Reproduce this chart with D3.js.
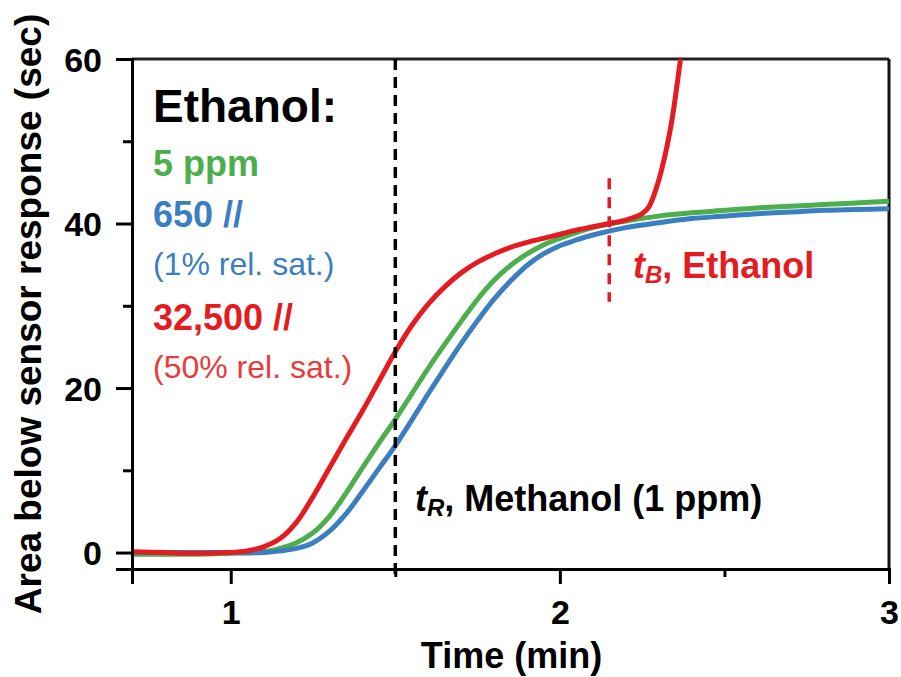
<!DOCTYPE html>
<html>
<head>
<meta charset="utf-8">
<script src="https://cdn.jsdelivr.net/npm/d3@7/dist/d3.min.js"></script>
<style>
  html, body { margin: 0; padding: 0; background: #fff; }
  svg { display: block; font-family: "Liberation Sans", Arial, sans-serif; }
</style>
</head>
<body>
<svg id="chart" width="901" height="677"></svg>
<script>
// ---------- data ----------
const timeGB = [0.70, 0.80, 0.90, 1.00, 1.10, 1.15, 1.20, 1.25, 1.30, 1.35, 1.40, 1.45, 1.50, 1.55, 1.60, 1.65, 1.70, 1.75, 1.80, 1.85, 1.90, 1.95, 2.00, 2.05, 2.10, 2.20, 2.30, 2.40, 2.50, 2.60, 2.70, 2.80, 2.90, 3.00];
const green5ppm = [-0.2, -0.2, -0.2, -0.1, 0.1, 0.5, 1.2, 2.4, 4.4, 7.2, 10.3, 13.3, 16.2, 19.3, 22.4, 25.3, 28.1, 30.8, 33.1, 34.9, 36.3, 37.4, 38.2, 38.9, 39.5, 40.3, 40.9, 41.3, 41.6, 41.9, 42.1, 42.3, 42.5, 42.7];
const blue650ppm = [0.0, 0.0, 0.0, 0.0, 0.0, 0.2, 0.5, 1.2, 2.6, 4.7, 7.4, 10.2, 13.0, 16.1, 19.3, 22.4, 25.4, 28.2, 30.8, 33.0, 34.9, 36.3, 37.3, 38.0, 38.6, 39.5, 40.1, 40.6, 40.9, 41.2, 41.4, 41.6, 41.7, 41.8];
const timeRed = [0.70, 0.80, 0.90, 1.00, 1.05, 1.10, 1.15, 1.20, 1.25, 1.30, 1.35, 1.40, 1.45, 1.50, 1.55, 1.60, 1.65, 1.70, 1.75, 1.80, 1.85, 1.90, 1.95, 2.00, 2.05, 2.10, 2.15, 2.20, 2.25, 2.27, 2.30, 2.335, 2.366, 2.38];
const red32500ppm = [0.1, 0.0, -0.1, 0.0, 0.2, 0.7, 1.7, 3.7, 6.8, 10.3, 13.8, 17.2, 20.8, 24.4, 27.6, 30.2, 32.3, 34.0, 35.3, 36.3, 37.1, 37.7, 38.2, 38.7, 39.2, 39.6, 40.0, 40.4, 41.2, 42.0, 45.2, 51.3, 59.8, 64.0];

const xTicksMajor = [1, 2, 3];
const xTicksMinor = [1.5, 2.5];
const yTicksMajor = [0, 20, 40, 60];
const yTicksMinor = [10, 30, 50];

const tR = 1.5;                 // methanol retention time
const tB = 2.15;                // ethanol breakthrough
const tBRange = [30.5, 45.5];

const legendLines = [
  { text: "Ethanol:", color: "#000000", weight: "bold", size: 46 },
  { text: "5 ppm", color: "#4cae4c", weight: "bold", size: 36 },
  { text: "650 //", color: "#3b7fc0", weight: "bold", size: 36 },
  { text: "(1% rel. sat.)", color: "#3b7fc0", weight: "normal", size: 32 },
  { text: "32,500 //", color: "#e41c22", weight: "bold", size: 36 },
  { text: "(50% rel. sat.)", color: "#ea3a3a", weight: "normal", size: 32 }
];
const legendBaselines = [122, 176, 227, 275, 330, 378];

// ---------- layout ----------
const svg = d3.select("#chart");
const L = 132, R = 889, T = 59, B = 569;

const x = d3.scaleLinear().domain([0.7, 3.0]).range([L, R]);
const y = d3.scaleLinear().domain([-2, 60]).range([B, T]);

svg.append("defs").append("clipPath").attr("id", "clip")
  .append("rect").attr("x", L).attr("y", T).attr("width", R - L).attr("height", B - T);

// frame top/right
svg.append("line").attr("x1", L).attr("x2", R).attr("y1", T).attr("y2", T)
  .attr("stroke", "#222").attr("stroke-width", 3);
svg.append("line").attr("x1", R).attr("x2", R).attr("y1", T).attr("y2", B)
  .attr("stroke", "#111").attr("stroke-width", 3);

// curves
const plot = svg.append("g").attr("clip-path", "url(#clip)");
const line = d3.line().x(d => x(d[0])).y(d => y(d[1])).curve(d3.curveCatmullRom.alpha(0.5));
const series = [
  { t: timeGB, v: green5ppm, color: "#4cae4c" },
  { t: timeGB, v: blue650ppm, color: "#3b7fc0" },
  { t: timeRed, v: red32500ppm, color: "#e41c22" }
];
series.forEach(s => {
  plot.append("path")
    .datum(s.t.map((t, i) => [t, s.v[i]]))
    .attr("d", line)
    .attr("fill", "none")
    .attr("stroke", s.color)
    .attr("stroke-width", 5)
    .attr("stroke-linejoin", "round");
});

// dashed markers
svg.append("line")
  .attr("x1", x(tR)).attr("x2", x(tR))
  .attr("y1", T).attr("y2", B + 8)
  .attr("stroke", "#000").attr("stroke-width", 3.5)
  .attr("stroke-dasharray", "11,7");
svg.append("line")
  .attr("x1", x(tB)).attr("x2", x(tB))
  .attr("y1", y(tBRange[1])).attr("y2", y(tBRange[0]))
  .attr("stroke", "#e41c22").attr("stroke-width", 3.5)
  .attr("stroke-dasharray", "11,8");

// axes
const xAxis = svg.append("g").attr("transform", `translate(0,${B})`)
  .call(d3.axisBottom(x).tickValues(xTicksMajor).tickSize(15).tickPadding(16).tickFormat(d3.format("d")));
svg.append("g").attr("transform", `translate(0,${B})`)
  .call(d3.axisBottom(x).tickValues(xTicksMinor).tickSize(8).tickFormat(""))
  .call(g => g.select(".domain").remove());
const yAxis = svg.append("g").attr("transform", `translate(${L},0)`)
  .call(d3.axisLeft(y).tickValues(yTicksMajor).tickSize(16).tickPadding(14).tickFormat(d3.format("d")));
svg.append("g").attr("transform", `translate(${L},0)`)
  .call(d3.axisLeft(y).tickValues(yTicksMinor).tickSize(9).tickFormat(""))
  .call(g => g.select(".domain").remove());

svg.selectAll(".domain").attr("stroke", "#000").attr("stroke-width", 3);
svg.selectAll(".tick line").attr("stroke", "#000").attr("stroke-width", 3);
svg.selectAll(".tick text")
  .attr("font-family", "Liberation Sans, Arial, sans-serif")
  .attr("font-size", 34).attr("font-weight", "bold").attr("fill", "#000");
xAxis.selectAll(".tick text").attr("dy", "0.71em");
yAxis.selectAll(".tick text").attr("dy", "0.36em");

// axis titles
svg.append("text")
  .attr("x", (L + R) / 2 + 1).attr("y", 668)
  .attr("text-anchor", "middle")
  .attr("font-size", 36).attr("font-weight", "bold")
  .text("Time (min)");
svg.append("text")
  .attr("transform", `translate(41,${(T + B) / 2}) rotate(-90)`)
  .attr("text-anchor", "middle")
  .attr("font-size", 37).attr("font-weight", "bold")
  .text("Area below sensor response (sec)");

// legend block
legendLines.forEach((d, i) => {
  svg.append("text")
    .attr("x", 153).attr("y", legendBaselines[i])
    .attr("font-size", d.size).attr("font-weight", d.weight)
    .attr("fill", d.color)
    .text(d.text);
});

// annotations
const aR = svg.append("text").attr("x", 415).attr("y", 511)
  .attr("font-size", 36).attr("font-weight", "bold").attr("fill", "#000");
aR.append("tspan").attr("font-style", "italic").text("t");
aR.append("tspan").attr("font-style", "italic").attr("font-size", 24).attr("dy", 5).text("R");
aR.append("tspan").attr("dy", -5).text(", Methanol (1 ppm)");

const aB = svg.append("text").attr("x", 633).attr("y", 278)
  .attr("font-size", 36).attr("font-weight", "bold").attr("fill", "#e41c22");
aB.append("tspan").attr("font-style", "italic").text("t");
aB.append("tspan").attr("font-style", "italic").attr("font-size", 24).attr("dy", 5).text("B");
aB.append("tspan").attr("dy", -5).text(", Ethanol");
</script>
</body>
</html>
